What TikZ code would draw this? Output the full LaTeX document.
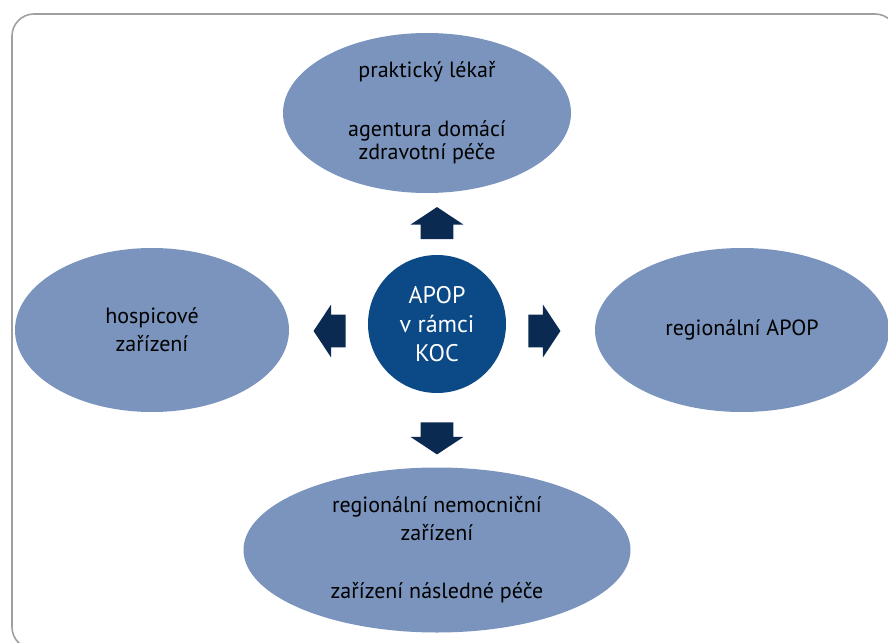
\documentclass[tikz,border=0pt]{standalone}
\usepackage{fontspec}
\setmainfont{PT Sans}
\usetikzlibrary{shapes.geometric,shapes.arrows}
\definecolor{ovalblue}{HTML}{7A94BD}
\definecolor{hubblue}{HTML}{0B4A86}
\definecolor{arrownavy}{HTML}{0A2A52}
\definecolor{framegray}{HTML}{A0A0A0}

\begin{document}
\begin{tikzpicture}[x=0.5pt,y=-0.5pt]
		\useasboundingbox (0,0) rectangle (888,642);
		\draw[framegray, line width=0.8pt, rounded corners=11pt] (12,14) rectangle (897,649);

		\begin{scope}[every node/.style={ellipse,fill=ovalblue,inner sep=0pt,align=center,
					  font=\fontsize{11}{14}\selectfont}]
			\node[minimum width=144pt,minimum height=80pt,font=\fontsize{11}{11.5}\selectfont] (lekar) at (427,113)
				{praktický lékař\\[18pt]agentura domácí\\zdravotní péče};
			\node[minimum width=137pt,minimum height=82pt] (hospic) at (152,330) {hospicové\\zařízení};
			\node[minimum width=147pt,minimum height=82pt] (regapop) at (742,330) {regionální APOP};
			\node[minimum width=193.5pt,minimum height=82.5pt] (nemocnice) at (437,550)
				{regionální nemocniční\\zařízení\\[15pt]zařízení následné péče};
		\end{scope}

		\node[circle,fill=hubblue,text=white,minimum size=69pt,inner sep=0pt,align=center,
			  font=\fontsize{12}{14.5}\selectfont] (apop) at (437,324) {APOP\\v rámci\\KOC};

		\begin{scope}[every node/.style={single arrow,fill=arrownavy,inner xsep=0pt,inner ysep=8pt,
					  minimum height=16pt,single arrow head extend=5pt,single arrow tip angle=113}]
			\node[rotate=90] (nahoru) at (437,228.5) {};
			\node[rotate=270] (dolu) at (437,433) {};
			\node[rotate=180] (vlevo) at (335,331) {};
			\node (vpravo) at (539,331) {};
		\end{scope}
\end{tikzpicture}
\end{document}
